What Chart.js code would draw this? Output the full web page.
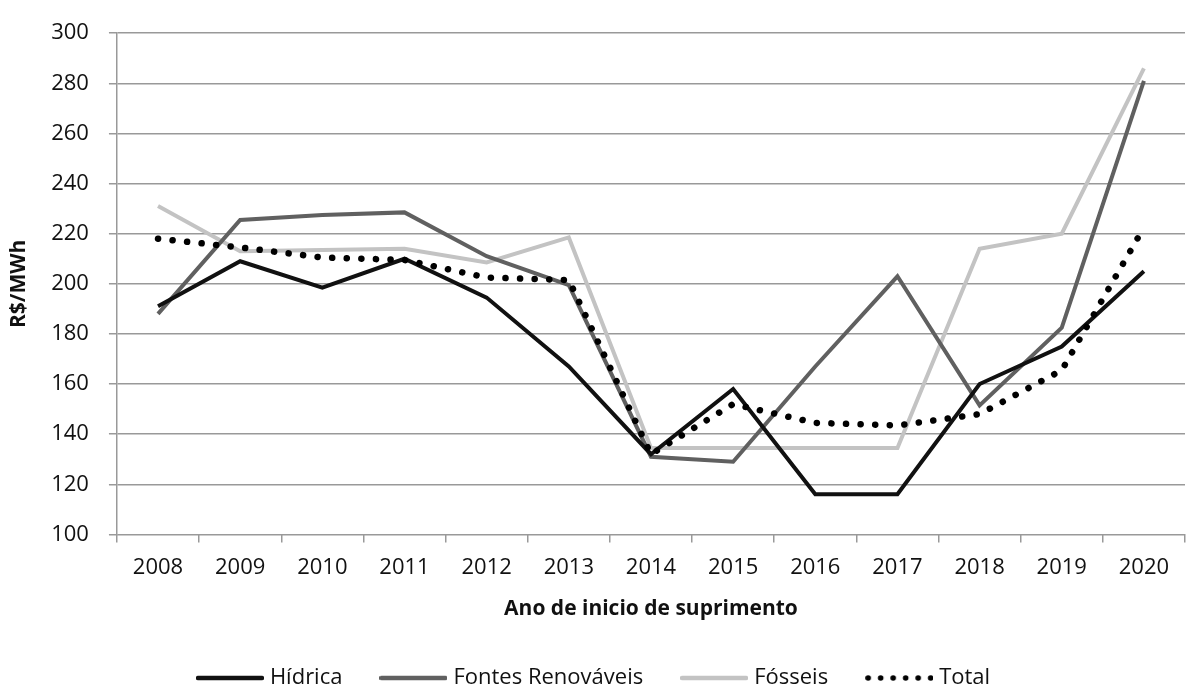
<!DOCTYPE html>
<html>
<head>
<meta charset="utf-8">
<script src="https://cdn.jsdelivr.net/npm/chart.js@4"></script>
<style>
  html, body { margin: 0; padding: 0; background: #fff; }
  #wrap { width: 1187px; height: 687px; }
</style>
</head>
<body>
<div id="wrap"><canvas id="chart"></canvas></div>
<script>
const anos = ['2008', '2009', '2010', '2011', '2012', '2013', '2014', '2015', '2016', '2017', '2018', '2019', '2020'];
const hidrica = [191, 209, 198.5, 210, 194.5, 167, 132, 158, 116, 116, 160, 175, 205];
const renovaveis = [188, 225.5, 227.5, 228.5, 211, 199.5, 131, 129, 167, 203, 151.5, 182.5, 281];
const fosseis = [231, 213, 213.5, 214, 208.5, 218.5, 134.5, 134.5, 134.5, 134.5, 214, 220, 286];
const total = [218, 214.5, 210.5, 209.5, 202.5, 201.5, 132, 152, 144.5, 143.5, 148, 165.5, 222.5];

const FONT = "'Open Sans', 'DejaVu Sans', sans-serif";

// small canvas used as legend sample
function amostra(cor, pontilhado) {
  const c = document.createElement('canvas');
  c.width = 68; c.height = 10;
  const g = c.getContext('2d');
  g.strokeStyle = cor;
  g.fillStyle = cor;
  if (pontilhado) {
    for (let i = 0; i < 6; i++) {
      g.beginPath(); g.arc(3 + i * 12.5, 5, 2.8, 0, Math.PI * 2); g.fill();
    }
  } else {
    g.lineWidth = 4.5;
    g.lineCap = 'round';
    g.beginPath(); g.moveTo(2, 5); g.lineTo(66, 5); g.stroke();
  }
  return c;
}

const ctx = document.getElementById('chart');
new Chart(ctx, {
  type: 'line',
  data: {
    labels: anos,
    datasets: [
      { label: 'Hídrica', data: hidrica, borderColor: '#111111', backgroundColor: '#111111',
        borderWidth: 4, pointRadius: 0, tension: 0, order: 1, pointStyle: amostra('#111111') },
      { label: 'Fontes Renováveis', data: renovaveis, borderColor: '#606060', backgroundColor: '#606060',
        borderWidth: 4, pointRadius: 0, tension: 0, order: 2, pointStyle: amostra('#606060') },
      { label: 'Fósseis', data: fosseis, borderColor: '#c3c3c3', backgroundColor: '#c3c3c3',
        borderWidth: 4, pointRadius: 0, tension: 0, order: 3, pointStyle: amostra('#c3c3c3') },
      { label: 'Total', data: total, borderColor: '#000000', backgroundColor: '#000000',
        borderWidth: 6.5, borderDash: [0.1, 14.5], borderCapStyle: 'round',
        pointRadius: 0, tension: 0, order: 0, pointStyle: amostra('#000000', true) }
    ]
  },
  options: {
    responsive: true,
    maintainAspectRatio: false,
    animation: false,
    layout: { padding: { top: 26, right: 2, left: 6, bottom: -12 } },
    plugins: {
      tooltip: { enabled: false },
      legend: {
        position: 'bottom',
        labels: {
          usePointStyle: true,
          pointStyleWidth: 58,
          padding: 2,
          color: '#111',
          font: { family: FONT, size: 22 },
          sort: (a, b) => a.datasetIndex - b.datasetIndex,
          generateLabels: (chart) => {
            const itens = Chart.defaults.plugins.legend.labels.generateLabels(chart);
            itens.forEach((it) => {
              if (it.datasetIndex < 3) it.text = it.text + '       ';
            });
            return itens;
          }
        }
      }
    },
    scales: {
      x: {
        offset: true,
        grid: { drawOnChartArea: false, offset: true, color: '#999', tickLength: 8, lineWidth: 1.5 },
        border: { display: false },
        ticks: { color: '#111', font: { family: FONT, size: 22 }, padding: 12, maxRotation: 0 },
        title: { display: true, text: 'Ano de inicio de suprimento', color: '#111',
                 font: { family: FONT, size: 21, weight: 'bold' }, padding: { top: 4, bottom: 43 } }
      },
      y: {
        min: 100, max: 300,
        ticks: { stepSize: 20, color: '#111', font: { family: FONT, size: 22 }, padding: 20 },
        grid: { color: '#999', lineWidth: 1.5, tickLength: 8 },
        border: { color: '#999', width: 1.5 },
        title: { display: true, text: 'R$/MWh', color: '#111',
                 font: { family: FONT, size: 21, weight: 'bold' }, padding: { top: 0, bottom: 0 } }
      }
    }
  }
});
</script>
</body>
</html>
